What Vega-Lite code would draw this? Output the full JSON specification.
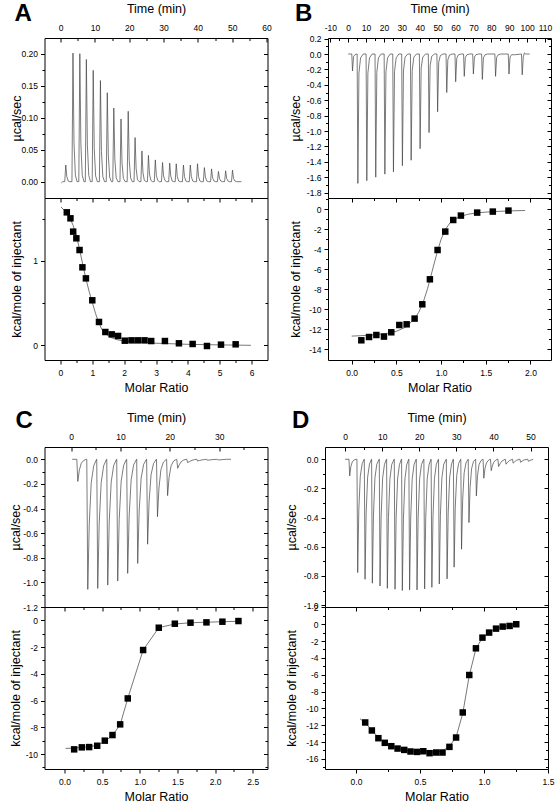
{
"$schema": "https://vega.github.io/schema/vega-lite/v6.json",
"background": "white",
"padding": {"left": 8.5, "top": 1, "right": 4, "bottom": 2},
"datasets": {
"thA": [{"t":0.2,"v":-0.002},{"t":0.6,"v":0},
{"t":1.2,"v":0},{"t":1.5,"v":0.026},{"t":1.8,"v":0.008},{"t":2.2,"v":0.001},{"t":2.7,"v":0},
{"t":3.3,"v":0},{"t":3.6,"v":0.201},{"t":3.9,"v":0.06},{"t":4.3,"v":0.01},{"t":4.8,"v":0},
{"t":5.3,"v":0},{"t":5.6,"v":0.2},{"t":5.9,"v":0.06},{"t":6.3,"v":0.01},{"t":6.8,"v":0},
{"t":7.2,"v":0},{"t":7.5,"v":0.191},{"t":7.8,"v":0.057},{"t":8.2,"v":0.01},{"t":8.7,"v":0},
{"t":9.2,"v":0},{"t":9.5,"v":0.174},{"t":9.8,"v":0.052},{"t":10.2,"v":0.009},{"t":10.7,"v":0},
{"t":11.3,"v":0},{"t":11.6,"v":0.158},{"t":11.9,"v":0.047},{"t":12.3,"v":0.008},{"t":12.8,"v":0},
{"t":13.3,"v":0},{"t":13.6,"v":0.139},{"t":13.9,"v":0.042},{"t":14.3,"v":0.007},{"t":14.8,"v":0},
{"t":15.2,"v":0},{"t":15.5,"v":0.115},{"t":15.8,"v":0.035},{"t":16.2,"v":0.006},{"t":16.7,"v":0},
{"t":17.3,"v":0},{"t":17.6,"v":0.098},{"t":17.9,"v":0.029},{"t":18.3,"v":0.005},{"t":18.8,"v":0},
{"t":19.4,"v":0},{"t":19.7,"v":0.11},{"t":20.0,"v":0.033},{"t":20.4,"v":0.006},{"t":20.9,"v":0},
{"t":21.4,"v":0},{"t":21.7,"v":0.069},{"t":22.0,"v":0.021},{"t":22.4,"v":0.003},{"t":22.9,"v":0},
{"t":23.4,"v":0},{"t":23.7,"v":0.048},{"t":24.0,"v":0.014},{"t":24.4,"v":0.002},{"t":24.9,"v":0},
{"t":25.3,"v":0},{"t":25.6,"v":0.041},{"t":25.9,"v":0.012},{"t":26.3,"v":0.002},{"t":26.8,"v":0},
{"t":27.3,"v":0},{"t":27.6,"v":0.034},{"t":27.9,"v":0.01},{"t":28.3,"v":0.002},{"t":28.8,"v":0},
{"t":29.4,"v":0},{"t":29.7,"v":0.03},{"t":30.0,"v":0.009},{"t":30.4,"v":0.002},{"t":30.9,"v":0},
{"t":31.5,"v":0},{"t":31.8,"v":0.029},{"t":32.1,"v":0.009},{"t":32.5,"v":0.001},{"t":33.0,"v":0},
{"t":33.4,"v":0},{"t":33.7,"v":0.028},{"t":34.0,"v":0.008},{"t":34.4,"v":0.001},{"t":34.9,"v":0},
{"t":35.5,"v":0},{"t":35.8,"v":0.026},{"t":36.1,"v":0.008},{"t":36.5,"v":0.001},{"t":37.0,"v":0},
{"t":37.5,"v":0},{"t":37.8,"v":0.026},{"t":38.1,"v":0.008},{"t":38.5,"v":0.001},{"t":39.0,"v":0},
{"t":39.6,"v":0},{"t":39.9,"v":0.028},{"t":40.2,"v":0.008},{"t":40.6,"v":0.001},{"t":41.1,"v":0},
{"t":41.6,"v":0},{"t":41.9,"v":0.022},{"t":42.2,"v":0.007},{"t":42.6,"v":0.001},{"t":43.1,"v":0},
{"t":43.7,"v":0},{"t":44.0,"v":0.02},{"t":44.3,"v":0.006},{"t":44.7,"v":0.001},{"t":45.2,"v":0},
{"t":45.7,"v":0},{"t":46.0,"v":0.016},{"t":46.3,"v":0.005},{"t":46.7,"v":0.001},{"t":47.2,"v":0},
{"t":47.8,"v":0},{"t":48.1,"v":0.017},{"t":48.4,"v":0.005},{"t":48.8,"v":0.001},{"t":49.3,"v":0},
{"t":49.8,"v":0},{"t":50.1,"v":0.018},{"t":50.4,"v":0.005},{"t":50.8,"v":0.001},{"t":51.3,"v":0},
{"t":52.7,"v":0}],
"thB": [{"t":0,"v":0},
{"t":2.0,"v":0},{"t":2.4,"v":-0.22},{"t":3.0,"v":-0.033},{"t":3.9,"v":-0.007},{"t":4.8,"v":0},
{"t":5.0,"v":0},{"t":5.4,"v":-1.68},{"t":6.0,"v":-0.25},{"t":6.9,"v":-0.05},{"t":8.4,"v":0},
{"t":10.0,"v":0},{"t":10.4,"v":-1.645},{"t":11.0,"v":-0.25},{"t":11.9,"v":-0.05},{"t":13.4,"v":0},
{"t":15.0,"v":0},{"t":15.4,"v":-1.6},{"t":16.0,"v":-0.24},{"t":16.9,"v":-0.05},{"t":18.4,"v":0},
{"t":20.1,"v":0},{"t":20.5,"v":-1.56},{"t":21.1,"v":-0.23},{"t":22.0,"v":-0.05},{"t":23.5,"v":0},
{"t":24.9,"v":0},{"t":25.3,"v":-1.53},{"t":25.9,"v":-0.23},{"t":26.8,"v":-0.05},{"t":28.3,"v":0},
{"t":29.9,"v":0},{"t":30.3,"v":-1.45},{"t":30.9,"v":-0.22},{"t":31.8,"v":-0.04},{"t":33.3,"v":0},
{"t":34.8,"v":0},{"t":35.2,"v":-1.38},{"t":35.8,"v":-0.21},{"t":36.7,"v":-0.04},{"t":38.2,"v":0},
{"t":39.8,"v":0},{"t":40.2,"v":-1.23},{"t":40.8,"v":-0.18},{"t":41.7,"v":-0.04},{"t":43.2,"v":0},
{"t":44.8,"v":0},{"t":45.2,"v":-1.02},{"t":45.8,"v":-0.15},{"t":46.7,"v":-0.03},{"t":48.2,"v":0},
{"t":49.6,"v":0},{"t":50.0,"v":-0.75},{"t":50.6,"v":-0.11},{"t":51.5,"v":-0.02},{"t":53.0,"v":0},
{"t":54.7,"v":0},{"t":55.1,"v":-0.5},{"t":55.7,"v":-0.075},{"t":56.6,"v":-0.015},{"t":58.1,"v":0},
{"t":59.7,"v":0},{"t":60.1,"v":-0.36},{"t":60.7,"v":-0.054},{"t":61.6,"v":-0.011},{"t":63.1,"v":0},
{"t":64.5,"v":0},{"t":64.9,"v":-0.29},{"t":65.5,"v":-0.044},{"t":66.4,"v":-0.009},{"t":67.9,"v":0},
{"t":69.6,"v":0},{"t":70.0,"v":-0.26},{"t":70.6,"v":-0.039},{"t":71.5,"v":-0.008},{"t":73.0,"v":0},
{"t":74.6,"v":0},{"t":75.0,"v":-0.33},{"t":75.6,"v":-0.05},{"t":76.5,"v":-0.01},{"t":78.0,"v":0},
{"t":82.0,"v":0},{"t":82.4,"v":-0.29},{"t":83.0,"v":-0.044},{"t":83.9,"v":-0.009},{"t":85.4,"v":0},
{"t":89.5,"v":0},{"t":89.9,"v":-0.26},{"t":90.5,"v":-0.039},{"t":91.4,"v":-0.008},{"t":92.9,"v":-0.01},
{"t":96.9,"v":0},{"t":97.3,"v":-0.27},{"t":97.9,"v":-0.04},{"t":98.5,"v":0.015},{"t":99.2,"v":0},
{"t":101.5,"v":0}],
"thC": [{"t":0.2,"v":0},
{"t":1.15,"v":0},{"t":1.35,"v":-0.18},{"t":1.65,"v":-0.09},{"t":2.05,"v":-0.032},{"t":2.55,"v":-0.009},{"t":3.1,"v":0},
{"t":3.17,"v":0},{"t":3.37,"v":-1.057},{"t":3.67,"v":-0.53},{"t":4.07,"v":-0.19},{"t":4.57,"v":-0.053},{"t":5.15,"v":0},
{"t":5.19,"v":0},{"t":5.39,"v":-1.049},{"t":5.69,"v":-0.52},{"t":6.09,"v":-0.19},{"t":6.59,"v":-0.052},{"t":7.17,"v":0},
{"t":7.22,"v":0},{"t":7.42,"v":-1.022},{"t":7.72,"v":-0.51},{"t":8.12,"v":-0.184},{"t":8.62,"v":-0.051},{"t":9.2,"v":0},
{"t":9.24,"v":0},{"t":9.44,"v":-0.989},{"t":9.74,"v":-0.49},{"t":10.14,"v":-0.178},{"t":10.64,"v":-0.049},{"t":11.22,"v":0},
{"t":11.26,"v":0},{"t":11.46,"v":-0.927},{"t":11.76,"v":-0.46},{"t":12.16,"v":-0.167},{"t":12.66,"v":-0.046},{"t":13.25,"v":0},
{"t":13.29,"v":0},{"t":13.49,"v":-0.846},{"t":13.79,"v":-0.42},{"t":14.19,"v":-0.152},{"t":14.69,"v":-0.042},{"t":15.26,"v":0},
{"t":15.3,"v":0},{"t":15.5,"v":-0.69},{"t":15.8,"v":-0.345},{"t":16.2,"v":-0.124},{"t":16.7,"v":-0.035},{"t":17.26,"v":0},
{"t":17.3,"v":0},{"t":17.5,"v":-0.466},{"t":17.8,"v":-0.233},{"t":18.2,"v":-0.084},{"t":18.7,"v":-0.023},{"t":19.3,"v":0},
{"t":19.35,"v":0},{"t":19.55,"v":-0.295},{"t":19.85,"v":-0.148},{"t":20.25,"v":-0.053},{"t":20.75,"v":-0.015},{"t":21.35,"v":0},
{"t":21.4,"v":0},{"t":21.6,"v":-0.073},{"t":21.9,"v":-0.045},{"t":22.3,"v":-0.02},{"t":22.8,"v":-0.006},{"t":23.35,"v":0},
{"t":23.45,"v":0},{"t":23.6,"v":-0.027},{"t":24.0,"v":-0.018},{"t":24.5,"v":-0.008},{"t":25.0,"v":-0.003},{"t":25.45,"v":0},
{"t":25.5,"v":0},{"t":25.6,"v":-0.014},{"t":26.0,"v":-0.01},{"t":26.5,"v":-0.005},{"t":27.0,"v":-0.002},{"t":27.45,"v":0},
{"t":27.5,"v":0},{"t":27.6,"v":-0.008},{"t":28.0,"v":-0.006},{"t":28.5,"v":-0.003},{"t":29.5,"v":0},
{"t":29.6,"v":0},{"t":29.7,"v":-0.005},{"t":30.2,"v":-0.004},{"t":30.8,"v":-0.002},{"t":31.5,"v":0},
{"t":32.4,"v":0}],
"thD": [{"t":0,"v":0},
{"t":1.06,"v":0},{"t":1.26,"v":-0.114},{"t":1.56,"v":-0.051},{"t":1.96,"v":-0.017},{"t":2.46,"v":-0.005},{"t":3.0,"v":0},
{"t":3.21,"v":0},{"t":3.41,"v":-0.777},{"t":3.71,"v":-0.35},{"t":4.11,"v":-0.117},{"t":4.61,"v":-0.031},{"t":5.15,"v":0},
{"t":5.19,"v":0},{"t":5.39,"v":-0.823},{"t":5.69,"v":-0.37},{"t":6.09,"v":-0.123},{"t":6.59,"v":-0.033},{"t":7.12,"v":0},
{"t":7.16,"v":0},{"t":7.36,"v":-0.85},{"t":7.66,"v":-0.383},{"t":8.06,"v":-0.128},{"t":8.56,"v":-0.034},{"t":9.19,"v":0},
{"t":9.23,"v":0},{"t":9.43,"v":-0.869},{"t":9.73,"v":-0.391},{"t":10.13,"v":-0.13},{"t":10.63,"v":-0.035},{"t":11.16,"v":0},
{"t":11.2,"v":0},{"t":11.4,"v":-0.885},{"t":11.7,"v":-0.398},{"t":12.1,"v":-0.133},{"t":12.6,"v":-0.035},{"t":13.23,"v":0},
{"t":13.27,"v":0},{"t":13.47,"v":-0.891},{"t":13.77,"v":-0.401},{"t":14.17,"v":-0.134},{"t":14.67,"v":-0.036},{"t":15.2,"v":0},
{"t":15.24,"v":0},{"t":15.44,"v":-0.9},{"t":15.74,"v":-0.405},{"t":16.14,"v":-0.135},{"t":16.64,"v":-0.036},{"t":17.16,"v":0},
{"t":17.2,"v":0},{"t":17.4,"v":-0.896},{"t":17.7,"v":-0.403},{"t":18.1,"v":-0.134},{"t":18.6,"v":-0.036},{"t":19.16,"v":0},
{"t":19.2,"v":0},{"t":19.4,"v":-0.896},{"t":19.7,"v":-0.403},{"t":20.1,"v":-0.134},{"t":20.6,"v":-0.036},{"t":21.21,"v":0},
{"t":21.25,"v":0},{"t":21.45,"v":-0.889},{"t":21.75,"v":-0.4},{"t":22.15,"v":-0.133},{"t":22.65,"v":-0.036},{"t":23.16,"v":0},
{"t":23.2,"v":0},{"t":23.4,"v":-0.878},{"t":23.7,"v":-0.395},{"t":24.1,"v":-0.132},{"t":24.6,"v":-0.035},{"t":25.16,"v":0},
{"t":25.2,"v":0},{"t":25.4,"v":-0.855},{"t":25.7,"v":-0.385},{"t":26.1,"v":-0.128},{"t":26.6,"v":-0.034},{"t":27.26,"v":0},
{"t":27.3,"v":0},{"t":27.5,"v":-0.82},{"t":27.8,"v":-0.369},{"t":28.2,"v":-0.123},{"t":28.7,"v":-0.033},{"t":29.16,"v":0},
{"t":29.2,"v":0},{"t":29.4,"v":-0.74},{"t":29.7,"v":-0.333},{"t":30.1,"v":-0.111},{"t":30.6,"v":-0.03},{"t":31.16,"v":0},
{"t":31.2,"v":0},{"t":31.4,"v":-0.617},{"t":31.7,"v":-0.278},{"t":32.1,"v":-0.093},{"t":32.6,"v":-0.025},{"t":33.16,"v":0},
{"t":33.2,"v":0},{"t":33.4,"v":-0.434},{"t":33.7,"v":-0.195},{"t":34.1,"v":-0.065},{"t":34.6,"v":-0.017},{"t":35.16,"v":0},
{"t":35.2,"v":0},{"t":35.4,"v":-0.251},{"t":35.7,"v":-0.113},{"t":36.1,"v":-0.038},{"t":36.6,"v":-0.01},{"t":37.16,"v":0},
{"t":37.2,"v":0},{"t":37.4,"v":-0.13},{"t":37.7,"v":-0.065},{"t":38.1,"v":-0.026},{"t":38.6,"v":-0.008},{"t":39.16,"v":0},
{"t":39.2,"v":0},{"t":39.4,"v":-0.078},{"t":39.7,"v":-0.045},{"t":40.1,"v":-0.02},{"t":40.6,"v":-0.006},{"t":41.16,"v":0},
{"t":41.2,"v":0},{"t":41.4,"v":-0.05},{"t":41.8,"v":-0.03},{"t":42.3,"v":-0.012},{"t":43.16,"v":0},
{"t":43.2,"v":0},{"t":43.4,"v":-0.034},{"t":43.8,"v":-0.021},{"t":44.3,"v":-0.009},{"t":45.1,"v":0},
{"t":45.15,"v":0},{"t":45.3,"v":-0.027},{"t":45.7,"v":-0.017},{"t":46.2,"v":-0.007},{"t":47.1,"v":0},
{"t":47.15,"v":0},{"t":47.3,"v":-0.021},{"t":47.7,"v":-0.013},{"t":48.2,"v":-0.005},{"t":49.2,"v":0},
{"t":49.25,"v":0},{"t":49.4,"v":-0.014},{"t":49.8,"v":-0.009},{"t":50.3,"v":-0.004},{"t":50.7,"v":0}],
"ptA": [{"x":0.2,"y":1.577},{"x":0.315,"y":1.506},{"x":0.4,"y":1.348},{"x":0.5,"y":1.269},{"x":0.6,"y":1.13},{"x":0.69,"y":0.925},{"x":0.8,"y":0.794},{"x":1.0,"y":0.534},{"x":1.21,"y":0.277},{"x":1.41,"y":0.158},{"x":1.61,"y":0.13},{"x":1.81,"y":0.111},{"x":2.02,"y":0.055},{"x":2.23,"y":0.059},{"x":2.43,"y":0.059},{"x":2.64,"y":0.059},{"x":2.85,"y":0.051},{"x":3.28,"y":0.051},{"x":3.72,"y":0.024},{"x":4.15,"y":0.016},{"x":4.6,"y":-0.008},{"x":5.04,"y":0.008},{"x":5.5,"y":0.012}],
"fitA": [{"x":0.02,"y":1.64},{"x":0.2,"y":1.57},{"x":0.3,"y":1.51},{"x":0.4,"y":1.42},{"x":0.5,"y":1.3},{"x":0.6,"y":1.14},{"x":0.7,"y":0.96},{"x":0.8,"y":0.79},{"x":0.9,"y":0.64},{"x":1.0,"y":0.51},{"x":1.1,"y":0.38},{"x":1.2,"y":0.27},{"x":1.3,"y":0.19},{"x":1.4,"y":0.14},{"x":1.6,"y":0.09},{"x":1.8,"y":0.065},{"x":2.0,"y":0.05},{"x":2.5,"y":0.035},{"x":3.0,"y":0.025},{"x":4.0,"y":0.012},{"x":5.0,"y":0.005},{"x":5.98,"y":0.0}],
"ptB": [{"x":0.108,"y":-13.1},{"x":0.194,"y":-12.77},{"x":0.276,"y":-12.57},{"x":0.361,"y":-12.73},{"x":0.443,"y":-12.3},{"x":0.533,"y":-11.57},{"x":0.615,"y":-11.5},{"x":0.704,"y":-10.93},{"x":0.79,"y":-9.5},{"x":0.875,"y":-7.0},{"x":0.961,"y":-4.07},{"x":1.047,"y":-2.23},{"x":1.136,"y":-1.07},{"x":1.222,"y":-0.63},{"x":1.404,"y":-0.33},{"x":1.579,"y":-0.23},{"x":1.754,"y":-0.13}],
"fitB": [{"x":0.0,"y":-12.68},{"x":0.2,"y":-12.6},{"x":0.4,"y":-12.4},{"x":0.5,"y":-12.2},{"x":0.6,"y":-11.8},{"x":0.7,"y":-11.0},{"x":0.75,"y":-10.3},{"x":0.8,"y":-9.3},{"x":0.85,"y":-7.9},{"x":0.9,"y":-6.2},{"x":0.95,"y":-4.5},{"x":1.0,"y":-3.0},{"x":1.05,"y":-2.0},{"x":1.1,"y":-1.35},{"x":1.2,"y":-0.75},{"x":1.3,"y":-0.5},{"x":1.4,"y":-0.35},{"x":1.6,"y":-0.22},{"x":1.8,"y":-0.15},{"x":1.94,"y":-0.12}],
"ptC": [{"x":0.128,"y":-9.65},{"x":0.23,"y":-9.5},{"x":0.327,"y":-9.48},{"x":0.434,"y":-9.38},{"x":0.535,"y":-9.0},{"x":0.637,"y":-8.58},{"x":0.739,"y":-7.78},{"x":0.84,"y":-5.84},{"x":1.044,"y":-2.22},{"x":1.252,"y":-0.55},{"x":1.465,"y":-0.25},{"x":1.673,"y":-0.175},{"x":1.885,"y":-0.15},{"x":2.097,"y":-0.1},{"x":2.31,"y":-0.05}],
"fitC": [{"x":0.013,"y":-9.58},{"x":0.128,"y":-9.56},{"x":0.23,"y":-9.5},{"x":0.327,"y":-9.45},{"x":0.434,"y":-9.35},{"x":0.535,"y":-9.05},{"x":0.637,"y":-8.6},{"x":0.739,"y":-7.8},{"x":0.84,"y":-5.84},{"x":1.044,"y":-2.22},{"x":1.252,"y":-0.55},{"x":1.465,"y":-0.27},{"x":1.673,"y":-0.18},{"x":1.885,"y":-0.14},{"x":2.097,"y":-0.1},{"x":2.31,"y":-0.07}],
"ptD": [{"x":0.072,"y":-11.67},{"x":0.124,"y":-12.62},{"x":0.175,"y":-13.54},{"x":0.225,"y":-14.09},{"x":0.276,"y":-14.49},{"x":0.325,"y":-14.77},{"x":0.377,"y":-14.93},{"x":0.426,"y":-15.12},{"x":0.477,"y":-15.17},{"x":0.526,"y":-15.09},{"x":0.575,"y":-15.32},{"x":0.627,"y":-15.24},{"x":0.676,"y":-15.24},{"x":0.73,"y":-14.57},{"x":0.782,"y":-13.46},{"x":0.834,"y":-10.48},{"x":0.885,"y":-6.03},{"x":0.937,"y":-2.86},{"x":0.988,"y":-1.59},{"x":1.04,"y":-0.99},{"x":1.094,"y":-0.52},{"x":1.146,"y":-0.28},{"x":1.2,"y":-0.2},{"x":1.252,"y":0.0}],
"fitD": [{"x":0.031,"y":-11.23},{"x":0.072,"y":-11.7},{"x":0.124,"y":-12.6},{"x":0.175,"y":-13.45},{"x":0.225,"y":-14.05},{"x":0.276,"y":-14.45},{"x":0.325,"y":-14.75},{"x":0.377,"y":-14.95},{"x":0.426,"y":-15.07},{"x":0.477,"y":-15.13},{"x":0.526,"y":-15.17},{"x":0.575,"y":-15.2},{"x":0.627,"y":-15.2},{"x":0.676,"y":-15.05},{"x":0.73,"y":-14.5},{"x":0.782,"y":-13.4},{"x":0.834,"y":-10.6},{"x":0.885,"y":-6.1},{"x":0.937,"y":-2.9},{"x":0.988,"y":-1.6},{"x":1.04,"y":-0.95},{"x":1.094,"y":-0.55},{"x":1.146,"y":-0.3},{"x":1.2,"y":-0.17},{"x":1.252,"y":-0.05}]
},
"spacing": 13,
"vconcat": [
{"hconcat": [
{"spacing": 0, "bounds": "flush", "vconcat": [
{"width": 223, "height": 160,
 "title": {"text": "A", "dx": -30, "dy": 52, "baseline": "bottom"},
 "data": {"name": "thA"},
 "layer": [
  {"mark": {"type": "line", "color": "#444", "strokeWidth": 0.7},
   "encoding": {
    "x": {"field": "t", "type": "quantitative", "scale": {"domain": [-4.7, 60.3], "nice": false, "zero": false},
      "axis": {"orient": "top", "title": "Time (min)", "values": [0,10,20,30,40,50,60], "ticks": false, "tickSize": 0, "labelPadding": 6, "titlePadding": 8}},
    "y": {"field": "v", "type": "quantitative", "scale": {"domain": [-0.0255, 0.2245], "nice": false, "zero": false},
      "axis": {"orient": "left", "title": "µcal/sec", "format": ".2f", "values": [0,0.025,0.05,0.075,0.1,0.125,0.15,0.175,0.2], "labelExpr": "abs(datum.value/0.05-round(datum.value/0.05))<0.001 ? datum.label : ''", "tickSize": {"condition": {"test": "abs(datum.value/0.05-round(datum.value/0.05))>0.001", "value": 2.5}, "value": 4}, "labelPadding": 3, "titleX": -21}}
   }},
  {"mark": {"type": "point", "opacity": 0},
   "encoding": {
    "x": {"field": "t", "type": "quantitative", "scale": {"domain": [-4.7, 60.3], "nice": false, "zero": false},
      "axis": {"orient": "top", "title": null, "labels": false, "values": [0,5,10,15,20,25,30,35,40,45,50,55,60], "tickSize": {"condition": {"test": "abs(datum.value/10-round(datum.value/10))>0.001", "value": -2.5}, "value": -4}}},
    "y": {"field": "v", "type": "quantitative", "scale": {"domain": [-0.0255, 0.2245], "nice": false, "zero": false},
      "axis": {"orient": "right", "title": null, "labels": false, "values": [0,0.025,0.05,0.075,0.1,0.125,0.15,0.175,0.2], "tickSize": {"condition": {"test": "abs(datum.value/0.05-round(datum.value/0.05))>0.001", "value": -2.5}, "value": -4}}}
   }}
 ],
 "resolve": {"axis": {"x": "independent", "y": "independent"}}
},
{"width": 223, "height": 162,
 "layer": [
  {"data": {"name": "fitA"}, "mark": {"type": "line", "color": "#555", "strokeWidth": 0.8},
   "encoding": {
    "x": {"field": "x", "type": "quantitative", "scale": {"domain": [-0.5, 6.5], "nice": false, "zero": false},
      "axis": {"orient": "top", "title": null, "labels": false, "values": [0,0.5,1,1.5,2,2.5,3,3.5,4,4.5,5,5.5,6], "tickSize": {"condition": {"test": "abs(datum.value-round(datum.value))>0.001", "value": -2.5}, "value": -4}}},
    "y": {"field": "y", "type": "quantitative", "scale": {"domain": [-0.174, 1.747], "nice": false, "zero": false},
      "axis": {"orient": "right", "title": null, "labels": false, "values": [0,0.5,1,1.5], "tickSize": {"condition": {"test": "abs(datum.value-round(datum.value))>0.001", "value": -2.5}, "value": -4}}}
   }},
  {"data": {"name": "ptA"}, "mark": {"type": "square", "size": 42, "color": "#000", "opacity": 1, "filled": true},
   "encoding": {
    "x": {"field": "x", "type": "quantitative", "scale": {"domain": [-0.5, 6.5], "nice": false, "zero": false},
      "axis": {"orient": "bottom", "title": "Molar Ratio", "format": ".0f", "values": [0,0.5,1,1.5,2,2.5,3,3.5,4,4.5,5,5.5,6], "labelExpr": "abs(datum.value-round(datum.value))<0.001 ? datum.label : ''", "tickSize": {"condition": {"test": "abs(datum.value-round(datum.value))>0.001", "value": 2.5}, "value": 4}, "labelPadding": 4, "titlePadding": 5}},
    "y": {"field": "y", "type": "quantitative", "scale": {"domain": [-0.174, 1.747], "nice": false, "zero": false},
      "axis": {"orient": "left", "title": "kcal/mole of injectant", "format": ".0f", "values": [0,0.5,1,1.5], "labelExpr": "abs(datum.value-round(datum.value))<0.001 ? datum.label : ''", "tickSize": {"condition": {"test": "abs(datum.value-round(datum.value))>0.001", "value": 2.5}, "value": 4}, "labelPadding": 3, "titleX": -21}}
   }}
 ],
 "resolve": {"axis": {"x": "independent", "y": "independent"}}
}
]},
{"spacing": 0, "bounds": "flush", "vconcat": [
{"width": 223, "height": 160,
 "title": {"text": "B", "dx": -33, "dy": 52, "baseline": "bottom"},
 "data": {"name": "thB"},
 "layer": [
  {"mark": {"type": "line", "color": "#444", "strokeWidth": 0.7},
   "encoding": {
    "x": {"field": "t", "type": "quantitative", "scale": {"domain": [-11.3, 113.4], "nice": false, "zero": false},
      "axis": {"orient": "top", "title": "Time (min)", "values": [-10,0,10,20,30,40,50,60,70,80,90,100,110], "ticks": false, "tickSize": 0, "labelPadding": 6, "titlePadding": 8}},
    "y": {"field": "v", "type": "quantitative", "scale": {"domain": [-1.87, 0.208], "nice": false, "zero": false},
      "axis": {"orient": "left", "title": "µcal/sec", "format": ".1f", "values": [-1.8,-1.7,-1.6,-1.5,-1.4,-1.3,-1.2,-1.1,-1.0,-0.9,-0.8,-0.7,-0.6,-0.5,-0.4,-0.3,-0.2,-0.1,0,0.1,0.2], "labelExpr": "abs(datum.value/0.2-round(datum.value/0.2))<0.001 ? datum.label : ''", "tickSize": {"condition": {"test": "abs(datum.value/0.2-round(datum.value/0.2))>0.001", "value": 2.5}, "value": 4}, "labelPadding": 3, "titleX": -26}}
   }},
  {"mark": {"type": "point", "opacity": 0},
   "encoding": {
    "x": {"field": "t", "type": "quantitative", "scale": {"domain": [-11.3, 113.4], "nice": false, "zero": false},
      "axis": {"orient": "top", "title": null, "labels": false, "values": [-10,-5,0,5,10,15,20,25,30,35,40,45,50,55,60,65,70,75,80,85,90,95,100,105,110], "tickSize": {"condition": {"test": "abs(datum.value/10-round(datum.value/10))>0.001", "value": -2.5}, "value": -4}}},
    "y": {"field": "v", "type": "quantitative", "scale": {"domain": [-1.87, 0.208], "nice": false, "zero": false},
      "axis": {"orient": "right", "title": null, "labels": false, "values": [-1.8,-1.7,-1.6,-1.5,-1.4,-1.3,-1.2,-1.1,-1.0,-0.9,-0.8,-0.7,-0.6,-0.5,-0.4,-0.3,-0.2,-0.1,0,0.1,0.2], "tickSize": {"condition": {"test": "abs(datum.value/0.2-round(datum.value/0.2))>0.001", "value": -2.5}, "value": -4}}}
   }}
 ],
 "resolve": {"axis": {"x": "independent", "y": "independent"}}
},
{"width": 223, "height": 162,
 "layer": [
  {"data": {"name": "fitB"}, "mark": {"type": "line", "color": "#555", "strokeWidth": 0.8},
   "encoding": {
    "x": {"field": "x", "type": "quantitative", "scale": {"domain": [-0.265, 2.23], "nice": false, "zero": false},
      "axis": {"orient": "top", "title": null, "labels": false, "values": [0,0.25,0.5,0.75,1,1.25,1.5,1.75,2], "tickSize": {"condition": {"test": "abs(datum.value/0.5-round(datum.value/0.5))>0.001", "value": -2.5}, "value": -4}}},
    "y": {"field": "y", "type": "quantitative", "scale": {"domain": [-15.07, 1.13], "nice": false, "zero": false},
      "axis": {"orient": "right", "title": null, "labels": false, "values": [-14,-13,-12,-11,-10,-9,-8,-7,-6,-5,-4,-3,-2,-1,0,1], "tickSize": {"condition": {"test": "abs(datum.value/2-round(datum.value/2))>0.001", "value": -2.5}, "value": -4}}}
   }},
  {"data": {"name": "ptB"}, "mark": {"type": "square", "size": 42, "color": "#000", "opacity": 1, "filled": true},
   "encoding": {
    "x": {"field": "x", "type": "quantitative", "scale": {"domain": [-0.265, 2.23], "nice": false, "zero": false},
      "axis": {"orient": "bottom", "title": "Molar Ratio", "format": ".1f", "values": [0,0.25,0.5,0.75,1,1.25,1.5,1.75,2], "labelExpr": "abs(datum.value/0.5-round(datum.value/0.5))<0.001 ? datum.label : ''", "tickSize": {"condition": {"test": "abs(datum.value/0.5-round(datum.value/0.5))>0.001", "value": 2.5}, "value": 4}, "labelPadding": 4, "titlePadding": 5}},
    "y": {"field": "y", "type": "quantitative", "scale": {"domain": [-15.07, 1.13], "nice": false, "zero": false},
      "axis": {"orient": "left", "title": "kcal/mole of injectant", "format": ".0f", "values": [-14,-13,-12,-11,-10,-9,-8,-7,-6,-5,-4,-3,-2,-1,0,1], "labelExpr": "abs(datum.value/2-round(datum.value/2))<0.001 ? datum.label : ''", "tickSize": {"condition": {"test": "abs(datum.value/2-round(datum.value/2))>0.001", "value": 2.5}, "value": 4}, "labelPadding": 3, "titleX": -26}}
   }}
 ],
 "resolve": {"axis": {"x": "independent", "y": "independent"}}
}
]}
], "spacing": 15.5},
{"hconcat": [
{"spacing": 0, "bounds": "flush", "vconcat": [
{"width": 223, "height": 160,
 "title": {"text": "C", "dx": -29, "dy": 50, "baseline": "bottom"},
 "data": {"name": "thC"},
 "layer": [
  {"mark": {"type": "line", "color": "#444", "strokeWidth": 0.7},
   "encoding": {
    "x": {"field": "t", "type": "quantitative", "scale": {"domain": [-5.4, 39.8], "nice": false, "zero": false},
      "axis": {"orient": "top", "title": "Time (min)", "values": [0,10,20,30,40], "ticks": false, "tickSize": 0, "labelPadding": 6, "titlePadding": 8}},
    "y": {"field": "v", "type": "quantitative", "scale": {"domain": [-1.2, 0.1], "nice": false, "zero": false},
      "axis": {"orient": "left", "title": "µcal/sec", "format": ".1f", "values": [-1.2,-1.1,-1.0,-0.9,-0.8,-0.7,-0.6,-0.5,-0.4,-0.3,-0.2,-0.1,0], "labelExpr": "abs(datum.value/0.2-round(datum.value/0.2))<0.001 ? datum.label : ''", "tickSize": {"condition": {"test": "abs(datum.value/0.2-round(datum.value/0.2))>0.001", "value": 2.5}, "value": 4}, "labelPadding": 3, "titleX": -22}}
   }},
  {"mark": {"type": "point", "opacity": 0},
   "encoding": {
    "x": {"field": "t", "type": "quantitative", "scale": {"domain": [-5.4, 39.8], "nice": false, "zero": false},
      "axis": {"orient": "top", "title": null, "labels": false, "values": [0,5,10,15,20,25,30,35], "tickSize": {"condition": {"test": "abs(datum.value/10-round(datum.value/10))>0.001", "value": -2.5}, "value": -4}}},
    "y": {"field": "v", "type": "quantitative", "scale": {"domain": [-1.2, 0.1], "nice": false, "zero": false},
      "axis": {"orient": "right", "title": null, "labels": false, "values": [-1.2,-1.1,-1.0,-0.9,-0.8,-0.7,-0.6,-0.5,-0.4,-0.3,-0.2,-0.1,0], "tickSize": {"condition": {"test": "abs(datum.value/0.2-round(datum.value/0.2))>0.001", "value": -2.5}, "value": -4}}}
   }}
 ],
 "resolve": {"axis": {"x": "independent", "y": "independent"}}
},
{"width": 223, "height": 162,
 "layer": [
  {"data": {"name": "fitC"}, "mark": {"type": "line", "color": "#555", "strokeWidth": 0.8},
   "encoding": {
    "x": {"field": "x", "type": "quantitative", "scale": {"domain": [-0.266, 2.696], "nice": false, "zero": false},
      "axis": {"orient": "top", "title": null, "labels": false, "values": [0,0.25,0.5,0.75,1,1.25,1.5,1.75,2,2.25,2.5], "tickSize": {"condition": {"test": "abs(datum.value/0.5-round(datum.value/0.5))>0.001", "value": -2.5}, "value": -4}}},
    "y": {"field": "y", "type": "quantitative", "scale": {"domain": [-11.12, 1.0], "nice": false, "zero": false},
      "axis": {"orient": "right", "title": null, "labels": false, "values": [-11,-10,-9,-8,-7,-6,-5,-4,-3,-2,-1,0], "tickSize": {"condition": {"test": "abs(datum.value/2-round(datum.value/2))>0.001", "value": -2.5}, "value": -4}}}
   }},
  {"data": {"name": "ptC"}, "mark": {"type": "square", "size": 42, "color": "#000", "opacity": 1, "filled": true},
   "encoding": {
    "x": {"field": "x", "type": "quantitative", "scale": {"domain": [-0.266, 2.696], "nice": false, "zero": false},
      "axis": {"orient": "bottom", "title": "Molar Ratio", "format": ".1f", "values": [0,0.25,0.5,0.75,1,1.25,1.5,1.75,2,2.25,2.5], "labelExpr": "abs(datum.value/0.5-round(datum.value/0.5))<0.001 ? datum.label : ''", "tickSize": {"condition": {"test": "abs(datum.value/0.5-round(datum.value/0.5))>0.001", "value": 2.5}, "value": 4}, "labelPadding": 4, "titlePadding": 5}},
    "y": {"field": "y", "type": "quantitative", "scale": {"domain": [-11.12, 1.0], "nice": false, "zero": false},
      "axis": {"orient": "left", "title": "kcal/mole of injectant", "format": ".0f", "values": [-11,-10,-9,-8,-7,-6,-5,-4,-3,-2,-1,0], "labelExpr": "abs(datum.value/2-round(datum.value/2))<0.001 ? datum.label : ''", "tickSize": {"condition": {"test": "abs(datum.value/2-round(datum.value/2))>0.001", "value": 2.5}, "value": 4}, "labelPadding": 3, "titleX": -22}}
   }}
 ],
 "resolve": {"axis": {"x": "independent", "y": "independent"}}
}
]},
{"spacing": 0, "bounds": "flush", "vconcat": [
{"width": 223, "height": 160,
 "title": {"text": "D", "dx": -33, "dy": 50, "baseline": "bottom"},
 "data": {"name": "thD"},
 "layer": [
  {"mark": {"type": "line", "color": "#444", "strokeWidth": 0.7},
   "encoding": {
    "x": {"field": "t", "type": "quantitative", "scale": {"domain": [-5.4, 54.7], "nice": false, "zero": false},
      "axis": {"orient": "top", "title": "Time (min)", "values": [0,10,20,30,40,50], "ticks": false, "tickSize": 0, "labelPadding": 6, "titlePadding": 8}},
    "y": {"field": "v", "type": "quantitative", "scale": {"domain": [-1.013, 0.084], "nice": false, "zero": false},
      "axis": {"orient": "left", "title": "µcal/sec", "format": ".1f", "values": [-1.0,-0.9,-0.8,-0.7,-0.6,-0.5,-0.4,-0.3,-0.2,-0.1,0], "labelExpr": "abs(datum.value/0.2-round(datum.value/0.2))<0.001 ? datum.label : ''", "tickSize": {"condition": {"test": "abs(datum.value/0.2-round(datum.value/0.2))>0.001", "value": 2.5}, "value": 4}, "labelPadding": 3, "titleX": -27}}
   }},
  {"mark": {"type": "point", "opacity": 0},
   "encoding": {
    "x": {"field": "t", "type": "quantitative", "scale": {"domain": [-5.4, 54.7], "nice": false, "zero": false},
      "axis": {"orient": "top", "title": null, "labels": false, "values": [0,5,10,15,20,25,30,35,40,45,50], "tickSize": {"condition": {"test": "abs(datum.value/10-round(datum.value/10))>0.001", "value": -2.5}, "value": -4}}},
    "y": {"field": "v", "type": "quantitative", "scale": {"domain": [-1.013, 0.084], "nice": false, "zero": false},
      "axis": {"orient": "right", "title": null, "labels": false, "values": [-1.0,-0.9,-0.8,-0.7,-0.6,-0.5,-0.4,-0.3,-0.2,-0.1,0], "tickSize": {"condition": {"test": "abs(datum.value/0.2-round(datum.value/0.2))>0.001", "value": -2.5}, "value": -4}}}
   }}
 ],
 "resolve": {"axis": {"x": "independent", "y": "independent"}}
},
{"width": 223, "height": 162,
 "layer": [
  {"data": {"name": "fitD"}, "mark": {"type": "line", "color": "#555", "strokeWidth": 0.8},
   "encoding": {
    "x": {"field": "x", "type": "quantitative", "scale": {"domain": [-0.242, 1.5], "nice": false, "zero": false},
      "axis": {"orient": "top", "title": null, "labels": false, "values": [0,0.25,0.5,0.75,1,1.25,1.5], "tickSize": {"condition": {"test": "abs(datum.value/0.5-round(datum.value/0.5))>0.001", "value": -2.5}, "value": -4}}},
    "y": {"field": "y", "type": "quantitative", "scale": {"domain": [-17.2, 2.05], "nice": false, "zero": false},
      "axis": {"orient": "right", "title": null, "labels": false, "values": [-17,-16,-15,-14,-13,-12,-11,-10,-9,-8,-7,-6,-5,-4,-3,-2,-1,0,1,2], "tickSize": {"condition": {"test": "abs(datum.value/2-round(datum.value/2))>0.001", "value": -2.5}, "value": -4}}}
   }},
  {"data": {"name": "ptD"}, "mark": {"type": "square", "size": 42, "color": "#000", "opacity": 1, "filled": true},
   "encoding": {
    "x": {"field": "x", "type": "quantitative", "scale": {"domain": [-0.242, 1.5], "nice": false, "zero": false},
      "axis": {"orient": "bottom", "title": "Molar Ratio", "format": ".1f", "values": [0,0.25,0.5,0.75,1,1.25,1.5], "labelExpr": "abs(datum.value/0.5-round(datum.value/0.5))<0.001 ? datum.label : ''", "tickSize": {"condition": {"test": "abs(datum.value/0.5-round(datum.value/0.5))>0.001", "value": 2.5}, "value": 4}, "labelPadding": 4, "titlePadding": 5}},
    "y": {"field": "y", "type": "quantitative", "scale": {"domain": [-17.2, 2.05], "nice": false, "zero": false},
      "axis": {"orient": "left", "title": "kcal/mole of injectant", "format": ".0f", "values": [-17,-16,-15,-14,-13,-12,-11,-10,-9,-8,-7,-6,-5,-4,-3,-2,-1,0,1,2], "labelExpr": "abs(datum.value/2-round(datum.value/2))<0.001 ? datum.label : ''", "tickSize": {"condition": {"test": "abs(datum.value/2-round(datum.value/2))>0.001", "value": 2.5}, "value": 4}, "labelPadding": 3, "titleX": -27}}
   }}
 ],
 "resolve": {"axis": {"x": "independent", "y": "independent"}}
}
]}
], "spacing": 15.5}
],
"config": {
 "locale": {"number": {"decimal": ".", "thousands": ",", "grouping": [3], "currency": ["$", ""], "minus": "-"}},
 "font": "Liberation Sans",
 "view": {"stroke": "#000", "strokeWidth": 1},
 "axis": {"labelFont": "Liberation Sans", "labelFontSize": 8.5, "labelColor": "#000", "titleFont": "Liberation Sans", "titleFontSize": 12.5, "titleFontWeight": "normal", "titleColor": "#000", "tickColor": "#000", "tickWidth": 1, "domain": false, "grid": false, "labelFlush": false, "labelOverlap": false},
 "title": {"font": "Liberation Sans", "fontSize": 24, "fontWeight": "bold", "color": "#000", "anchor": "start", "frame": "group", "offset": 0}
}
}
